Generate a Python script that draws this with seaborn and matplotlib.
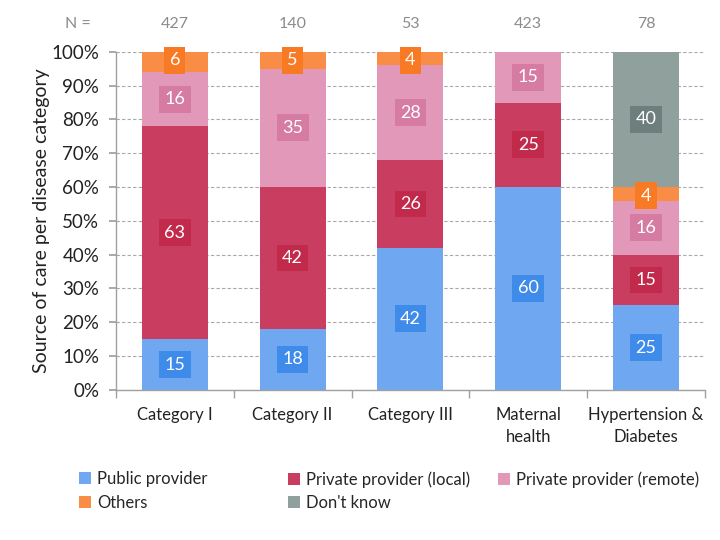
import matplotlib
matplotlib.use("Agg")
import matplotlib.pyplot as plt
import numpy as np
import seaborn as sns
from matplotlib.patches import Patch
from matplotlib.ticker import FixedLocator

categories = ["Category I", "Category II", "Category III", "Maternal\nhealth", "Hypertension &\nDiabetes"]
n_counts = [427, 140, 53, 423, 78]

public = [15, 18, 42, 60, 25]
private_local = [63, 42, 26, 25, 15]
private_remote = [16, 35, 28, 15, 16]
others = [6, 5, 4, 0, 4]
dont_know = [0, 0, 0, 0, 40]

series_names = ["Public provider", "Private provider (local)", "Private provider (remote)", "Others", "Don't know"]
series_values = [public, private_local, private_remote, others, dont_know]
bar_colors = ["#6FA8F0", "#C93E60", "#E298B9", "#FA8D46", "#8FA09D"]
box_colors = ["#3F8BEA", "#C22A4C", "#D67BA2", "#F97A24", "#6E7E7C"]

sns.set_theme(style="white")
plt.rcParams["font.family"] = ["Lato", "DejaVu Sans"]

fig = plt.figure(figsize=(7.2, 5.4), dpi=100)
ax = fig.add_axes([0.161, 0.278, 0.818, 0.626])

vals = np.array(series_values, dtype=float)
cum = np.cumsum(vals, axis=0)

# stacked bars: draw cumulative totals from the top layer down
for i in range(len(series_names) - 1, -1, -1):
    sns.barplot(x=list(range(len(categories))), y=cum[i], color=bar_colors[i],
                saturation=1, width=0.56, ax=ax, zorder=2, linewidth=0)

# value labels on dark boxes
for i in range(len(series_names)):
    for j in range(len(categories)):
        v = vals[i, j]
        if v <= 0:
            continue
        ymid = cum[i, j] - v / 2
        if i == 3:
            ymid = cum[i, j] - 2.5
        ax.text(j, ymid, f"{int(v)}", ha="center", va="center", color="white",
                fontsize=13, zorder=4,
                bbox=dict(boxstyle="square,pad=0.3", fc=box_colors[i], ec="none"))

ax.set_xlim(-0.5, len(categories) - 0.5)
ax.set_ylim(0, 100)
ax.yaxis.set_major_locator(FixedLocator(np.arange(0, 101, 10)))
ax.set_yticklabels([f"{t}%" for t in range(0, 101, 10)], fontsize=13.5, color="#222222")
ax.set_xticks(range(len(categories)))
ax.set_xticklabels(categories, fontsize=12, color="#222222", linespacing=1.5)
ax.xaxis.set_minor_locator(FixedLocator(np.arange(-0.5, len(categories), 1.0)))
ax.tick_params(axis="x", which="major", length=0, pad=12)
ax.tick_params(axis="x", which="minor", length=6, color="#A0A0A0", direction="out", bottom=True)
ax.tick_params(axis="y", length=5, color="#A0A0A0", direction="out", left=True, pad=7)
ax.yaxis.grid(True, linestyle=(0, (3, 2)), color="#A8A8A8", linewidth=0.8, zorder=0)
ax.set_axisbelow(True)
for side in ["top", "right"]:
    ax.spines[side].set_visible(False)
for side in ["left", "bottom"]:
    ax.spines[side].set_color("#A0A0A0")
    ax.spines[side].set_linewidth(1.0)

ax.set_ylabel("Source of care per disease category", fontsize=14, color="#222222", labelpad=1)
ax.set_xlabel("")

# N = counts above the bars
trans = ax.get_xaxis_transform()
ax.text(-0.82, 1.082, "N =", transform=trans, ha="center", va="center", color="#8C8C8C", fontsize=11.5)
for j, n in enumerate(n_counts):
    ax.text(j, 1.082, str(n), transform=trans, ha="center", va="center", color="#8C8C8C", fontsize=11.5)

# legend: three columns placed like the original, filled row by row
handles = [Patch(facecolor=c, edgecolor="none") for c in bar_colors]
legend_cols = [[0, 3], [1, 4], [2]]
col_x = [79, 288, 498]
for keys, x0 in zip(legend_cols, col_x):
    leg = fig.legend([handles[k] for k in keys], [series_names[k] for k in keys],
                     loc="upper left", bbox_to_anchor=(x0 / 720, 1 - 471 / 540), ncol=1,
                     frameon=False, fontsize=12, handlelength=0.7, handleheight=0.7,
                     handletextpad=0.4, labelspacing=0.45, borderpad=0, borderaxespad=0)

fig.savefig("out.png", dpi=100)
